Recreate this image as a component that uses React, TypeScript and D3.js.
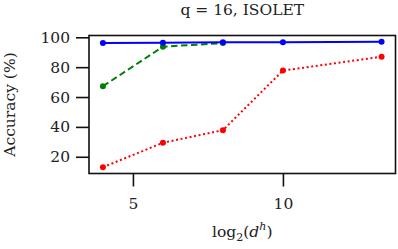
import * as d3 from "d3";
import React, { useEffect, useRef } from "react";

// x = log2(d^h), last point is d^h = 10000
const xValues = [4, 6, 8, 10, Math.log2(10000)];
const blueAcc = [96.2, 96.3, 96.6, 96.7, 97.0];
const greenAcc = [67.2, 93.7, 96.1];
const redAcc = [13.0, 29.4, 37.8, 77.7, 87.0];
const xTicks = [5, 10];
const yTicks = [20, 40, 60, 80, 100];

const W = 398;
const H = 249;
const FONT = "DejaVu Serif";
const FS = 15.5;

const App = () => {
  const svgRef = useRef<SVGSVGElement>(null);

  useEffect(() => {
    const svg = d3.select(svgRef.current);
    svg.selectAll("*").remove();

    const left = 89, right = 395.5, top = 35.5, bottom = 173.5;

    // matplotlib style 5% margins
    const xExt = d3.extent(xValues) as [number, number];
    const xPad = (xExt[1] - xExt[0]) * 0.05;
    const allY = [...blueAcc, ...greenAcc, ...redAcc];
    const yExt = d3.extent(allY) as [number, number];
    const yPad = (yExt[1] - yExt[0]) * 0.05;

    const x = d3.scaleLinear().domain([xExt[0] - xPad, xExt[1] + xPad]).range([left, right]);
    const y = d3.scaleLinear().domain([yExt[0] - yPad, yExt[1] + yPad]).range([bottom, top]);

    const series = [
      { vals: redAcc, color: "#ff0000", dash: "2,2.6" },
      { vals: greenAcc, color: "#008000", dash: "6.5,3.5" },
      { vals: blueAcc, color: "#0000ff", dash: null },
    ];

    const line = d3.line<[number, number]>().x((d) => x(d[0])).y((d) => y(d[1]));

    series.forEach((s) => {
      const pts: [number, number][] = s.vals.map((v, i) => [xValues[i], v]);
      svg.append("path")
        .attr("d", line(pts))
        .attr("fill", "none")
        .attr("stroke", s.color)
        .attr("stroke-width", 2)
        .attr("stroke-dasharray", s.dash);
      svg.selectAll(null)
        .data(pts)
        .enter()
        .append("circle")
        .attr("cx", (d) => x(d[0]))
        .attr("cy", (d) => y(d[1]))
        .attr("r", 3)
        .attr("fill", s.color);
    });

    // axes box
    svg.append("rect")
      .attr("x", left).attr("y", top)
      .attr("width", right - left).attr("height", bottom - top)
      .attr("fill", "none").attr("stroke", "#111").attr("stroke-width", 1.6);

    const xAxis = d3.axisBottom(x).tickValues(xTicks).tickSize(13).tickPadding(11).tickFormat(d3.format("d"));
    const gx = svg.append("g").attr("transform", `translate(0,${bottom})`).call(xAxis);
    const yAxis = d3.axisLeft(y).tickValues(yTicks).tickSize(13).tickPadding(6).tickFormat(d3.format("d"));
    const gy = svg.append("g").attr("transform", `translate(${left},0)`).call(yAxis);

    [gx, gy].forEach((g) => {
      g.select(".domain").remove();
      g.selectAll(".tick line").attr("stroke", "#111").attr("stroke-width", 1.6);
      g.selectAll(".tick text").attr("font-family", FONT).attr("font-size", FS).attr("fill", "#222");
    });

    svg.append("text")
      .attr("x", (left + right) / 2).attr("y", 15)
      .attr("text-anchor", "middle")
      .attr("font-family", FONT).attr("font-size", FS).attr("fill", "#222")
      .text("q = 16, ISOLET");

    const xl = svg.append("text")
      .attr("x", (left + right) / 2).attr("y", 237)
      .attr("text-anchor", "middle")
      .attr("font-family", FONT).attr("font-size", FS).attr("fill", "#222");
    xl.append("tspan").text("log");
    xl.append("tspan").attr("font-size", 11).attr("dy", 4).text("2");
    xl.append("tspan").attr("dy", -4).text("(");
    xl.append("tspan").attr("font-style", "italic").text("d");
    xl.append("tspan").attr("font-size", 11).attr("font-style", "italic").attr("dy", -7).text("h");
    xl.append("tspan").attr("dy", 7).text(")");

    svg.append("text")
      .attr("transform", `translate(15,${(top + bottom) / 2}) rotate(-90)`)
      .attr("text-anchor", "middle")
      .attr("font-family", FONT).attr("font-size", FS).attr("fill", "#222")
      .text("Accuracy (%)");
  }, []);

  return (
    <svg
      ref={svgRef}
      width={W}
      height={H}
      viewBox={`0 0 ${W} ${H}`}
      style={{ position: "absolute", left: 0, top: 0, background: "#fff" }}
    />
  );
};

export default App;
